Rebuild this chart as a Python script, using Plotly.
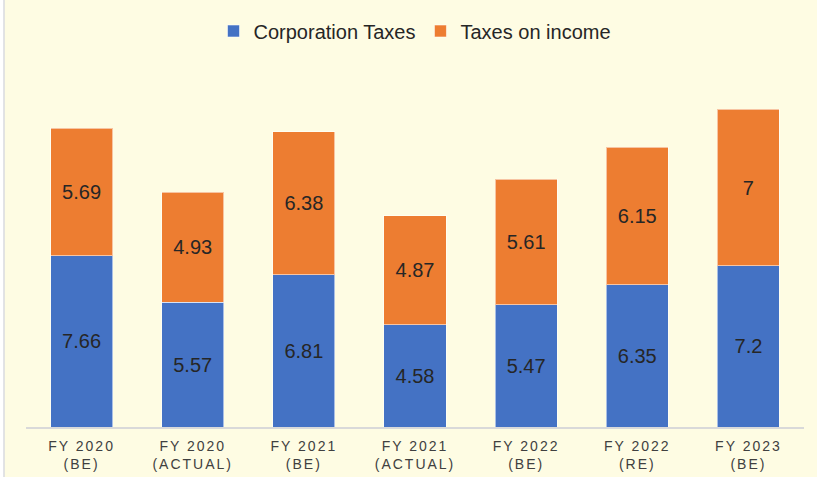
import plotly.graph_objects as go

# Tax collections by fiscal year (stacked: corporation taxes + taxes on income)
categories = [
    "FY 2020<br>(BE)",
    "FY 2020<br>(ACTUAL)",
    "FY 2021<br>(BE)",
    "FY 2021<br>(ACTUAL)",
    "FY 2022<br>(BE)",
    "FY 2022<br>(RE)",
    "FY 2023<br>(BE)",
]
corporation_taxes = [7.66, 5.57, 6.81, 4.58, 5.47, 6.35, 7.2]
taxes_on_income = [5.69, 4.93, 6.38, 4.87, 5.61, 6.15, 7]

BLUE = "#4472C4"
ORANGE = "#ED7D31"
CREAM = "#FEFCE3"
TEXT = "#262626"
FONT = "Arial, Liberation Sans, sans-serif"

W, H = 817, 477
ML, MR, MT, MB = 26, 13, 69, 50

fig = go.Figure()
for name, vals, color in [
    ("Corporation Taxes", corporation_taxes, BLUE),
    ("Taxes on income", taxes_on_income, ORANGE),
]:
    fig.add_trace(go.Bar(
        name=name,
        x=categories,
        y=vals,
        marker=dict(color=color, line=dict(color="rgba(255,255,255,0.55)", width=1)),
        texttemplate="%{y}",
        textposition="inside",
        insidetextanchor="middle",
        textangle=0,
        constraintext="none",
        insidetextfont=dict(family=FONT, size=20, color=TEXT),
        hoverinfo="skip",
    ))

# Chart-area panel with a light border
pw = W - ML - MR
ph = H - MT - MB
fig.add_shape(
    type="rect", xref="paper", yref="paper", layer="below",
    x0=(4 - ML) / pw, x1=(W + 5 - ML) / pw,
    y0=-(MB + 5) / ph, y1=(H - MT - 4 + MB) / ph,
    fillcolor=CREAM, line=dict(color="#D9DAE0", width=1.5),
)

fig.update_layout(
    width=W, height=H,
    margin=dict(l=ML, r=MR, t=MT, b=MB, pad=0, autoexpand=False),
    barmode="stack",
    bargap=0.442,
    paper_bgcolor="white",
    plot_bgcolor="rgba(0,0,0,0)",
    font=dict(family=FONT, color=TEXT),
    showlegend=True,
    legend=dict(
        orientation="h", traceorder="normal",
        x=0.5, xanchor="center", y=1.0 + (MT - 31) / ph, yanchor="middle",
        font=dict(family=FONT, size=20, color=TEXT),
        bgcolor="rgba(0,0,0,0)", itemclick=False, itemdoubleclick=False,
    ),
    xaxis=dict(
        showline=True, linecolor="#D9D9D9", linewidth=1.5, automargin=False,
        ticks="", showgrid=False, zeroline=False, ticklabelstandoff=5,
        tickfont=dict(family=FONT, size=14, color="#404040"),
    ),
    yaxis=dict(
        range=[0, 16], visible=False, showgrid=False, zeroline=False,
        automargin=False,
    ),
)

fig.write_html(
    "out.html",
    post_script="var s=document.createElement('style');"
                "s.textContent='.xtick text{letter-spacing:2px;}';"
                "document.head.appendChild(s);",
)
